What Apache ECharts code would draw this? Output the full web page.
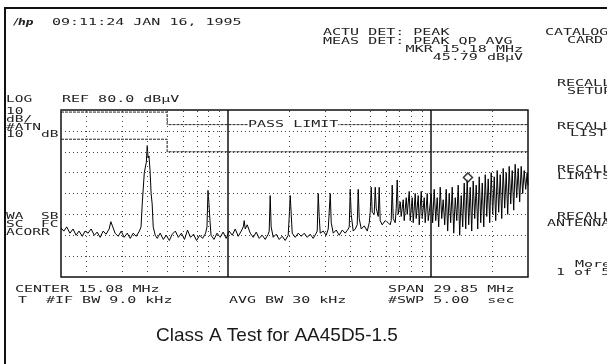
<!DOCTYPE html>
<html>
<head>
<meta charset="utf-8">
<script src="https://cdn.jsdelivr.net/npm/echarts@6/dist/echarts.min.js"></script>
<style>
    html, body { margin: 0; padding: 0; background: #fff; }
    #chart { width: 607px; height: 364px; }
</style>
</head>
<body>
<div id="chart"></div>
<script>
// Spectrum trace, [frequency MHz, level dBuV]
var trace = [
    [0.150, 23.5], [0.155, 22], [0.160, 24], [0.166, 21], [0.172, 23], [0.178, 20], [0.184, 22],
    [0.191, 19.5], [0.197, 22], [0.204, 21], [0.211, 23], [0.219, 20], [0.226, 21.5], [0.234, 19],
    [0.242, 22], [0.250, 20.5], [0.259, 23], [0.264, 26.5], [0.270, 24], [0.277, 21], [0.287, 19.5],
    [0.297, 22], [0.307, 19], [0.318, 21], [0.329, 18.5], [0.340, 21], [0.352, 19.5], [0.365, 22],
    [0.372, 24], [0.377, 35], [0.386, 50], [0.395, 55], [0.399, 63], [0.403, 57], [0.407, 58],
    [0.412, 51], [0.417, 40], [0.422, 35], [0.427, 24], [0.437, 20], [0.447, 18.5], [0.462, 21],
    [0.479, 18], [0.495, 20], [0.513, 17.5], [0.530, 20.5], [0.549, 22], [0.568, 19], [0.588, 21],
    [0.609, 18], [0.630, 22.5], [0.652, 19], [0.675, 20.5], [0.698, 17.5], [0.723, 20], [0.748, 18.5],
    [0.774, 21], [0.786, 24], [0.795, 41.5], [0.804, 35], [0.813, 27], [0.823, 20], [0.851, 18],
    [0.881, 21], [0.912, 19], [0.944, 21.5], [0.977, 18.5], [1.011, 22], [1.047, 20], [1.083, 23],
    [1.120, 19.5], [1.159, 22], [1.186, 24], [1.199, 27], [1.213, 23], [1.241, 25], [1.284, 21],
    [1.328, 19], [1.374, 21.5], [1.421, 18.5], [1.471, 20], [1.522, 18], [1.574, 20.5], [1.592, 22],
    [1.610, 39], [1.628, 24], [1.666, 19], [1.724, 20.5], [1.783, 18], [1.845, 19.5], [1.909, 17.5],
    [1.975, 20], [1.998, 29], [2.021, 39], [2.044, 30], [2.067, 21], [2.139, 19], [2.213, 21],
    [2.289, 19.5], [2.369, 21], [2.451, 19], [2.535, 20.5], [2.623, 18.5], [2.714, 21], [2.745, 22],
    [2.776, 40], [2.808, 29], [2.840, 21], [2.939, 22], [3.040, 20], [3.110, 23], [3.182, 40],
    [3.218, 26], [3.292, 21], [3.406, 22.5], [3.524, 20], [3.646, 22.5], [3.772, 21], [3.903, 23],
    [3.947, 24], [3.992, 42], [4.037, 30], [4.129, 22], [4.225, 23], [4.321, 25], [4.371, 42],
    [4.421, 28], [4.523, 23], [4.681, 24.5], [4.842, 22], [4.953, 26], [5.009, 31], [5.066, 43],
    [5.123, 31], [5.241, 30], [5.301, 43], [5.361, 33], [5.484, 29], [5.546, 43], [5.609, 27],
    [5.738, 25], [5.937, 27], [6.143, 26], [6.283, 25], [6.354, 27], [6.428, 44], [6.501, 28],
    [6.651, 26], [6.727, 33], [6.803, 46.5], [6.880, 30], [7.039, 36], [7.119, 29], [7.283, 37],
    [7.366, 27], [7.535, 38], [7.621, 30], [7.796, 41], [7.885, 27], [8.066, 38], [8.158, 26],
    [8.345, 40], [8.440, 28], [8.635, 39], [8.733, 25], [8.934, 41], [9.036, 28], [9.242, 38],
    [9.347, 26], [9.562, 40], [9.671, 27], [9.892, 35],
    [10.00, 40], [10.17, 26], [10.35, 42], [10.53, 27], [10.71, 38], [10.89, 24], [11.08, 43],
    [11.27, 28], [11.46, 37], [11.66, 25], [11.86, 42], [12.06, 22], [12.27, 40], [12.48, 26],
    [12.70, 43], [12.92, 21], [13.14, 38], [13.37, 27], [13.59, 44], [13.82, 20], [14.06, 39],
    [14.30, 24], [14.55, 45], [14.80, 23], [15.05, 47], [15.31, 25], [15.57, 43], [15.84, 22],
    [16.11, 46], [16.39, 28], [16.67, 44], [16.96, 23], [17.25, 48], [17.55, 26], [17.85, 45],
    [18.16, 24], [18.47, 49], [18.79, 29], [19.10, 47], [19.43, 26], [19.76, 50], [20.10, 30],
    [20.45, 48], [20.80, 27], [21.15, 51], [21.51, 31], [21.89, 49], [22.27, 28], [22.64, 52],
    [23.03, 33], [23.43, 50], [23.83, 30], [24.24, 53], [24.66, 35], [25.08, 51], [25.51, 32],
    [25.94, 54], [26.39, 38], [26.84, 52], [27.30, 36], [27.77, 53], [28.25, 40], [28.73, 51],
    [29.22, 42], [29.72, 50], [30.00, 44]
];

// Class A conducted limits (pass limit lines)
var qpLimitFreq = [0.15, 0.5, 0.5, 30];
var qpLimitLevel = [79, 79, 73, 73];
var avgLimitFreq = [0.15, 0.5, 0.5, 30];
var avgLimitLevel = [66, 66, 60, 60];

// graticule
var minorFreqs = [0.2, 0.3, 0.4, 0.5, 0.6, 0.7, 0.8, 0.9, 2, 3, 4, 5, 6, 7, 8, 9, 20];
var decadeFreqs = [1, 10];

// marker
var markerFreq = 15.18;
var markerLevel = 45.79;

function zip(xs, ys) {
    var out = [];
    for (var i = 0; i < xs.length; i++) {
        out.push([xs[i], ys[i]]);
    }
    return out;
}

// screen text in the analyzer's wide, squat character cell
function label(text, x, y, opts) {
    opts = opts || {};
    return {
        type: 'text',
        x: x,
        y: y,
        scaleX: opts.scaleX || 1.5,
        scaleY: opts.scaleY || 0.82,
        silent: true,
        z: 10,
        style: {
            text: text,
            font: opts.font || '10px "DejaVu Sans Mono"',
            fill: opts.color || '#222',
            align: opts.align || 'left',
            textAlign: opts.align || 'left',
            verticalAlign: 'middle',
            textVerticalAlign: 'middle',
            backgroundColor: opts.bg
        }
    };
}

var gridMarks = [];
minorFreqs.forEach(function (f) {
    gridMarks.push({ xAxis: f });
});
decadeFreqs.forEach(function (f) {
    gridMarks.push({ xAxis: f, lineStyle: { type: 'solid', color: '#111', width: 1.5 } });
});

var chart = echarts.init(document.getElementById('chart'));
var options = {
    animation: false,
    backgroundColor: '#fff',
    grid: {
        left: 61,
        top: 110,
        right: 79,
        bottom: 87,
        show: true,
        borderColor: '#111',
        borderWidth: 1.5,
        outerBoundsMode: 'none'
    },
    xAxis: {
        type: 'log',
        logBase: 10,
        min: 0.15,
        max: 30,
        axisLine: { show: false },
        axisTick: { show: false },
        axisLabel: { show: false },
        splitLine: { show: false }
    },
    yAxis: {
        type: 'value',
        min: 0,
        max: 80,
        interval: 10,
        axisLine: { show: false },
        axisTick: { show: false },
        axisLabel: { show: false },
        splitLine: {
            show: true,
            lineStyle: { type: [1, 3], color: '#444', width: 1 }
        }
    },
    series: [
        {
            name: 'graticule',
            type: 'line',
            data: [],
            silent: true,
            markLine: {
                silent: true,
                symbol: ['none', 'none'],
                label: { show: false },
                lineStyle: { type: [1, 4], color: '#444', width: 1 },
                data: gridMarks
            }
        },
        {
            name: 'QP limit',
            type: 'line',
            data: zip(qpLimitFreq, qpLimitLevel),
            showSymbol: false,
            silent: true,
            lineStyle: { color: '#222', width: 1, type: [3, 1] }
        },
        {
            name: 'AVG limit',
            type: 'line',
            data: zip(avgLimitFreq, avgLimitLevel),
            showSymbol: false,
            silent: true,
            lineStyle: { color: '#222', width: 1, type: [3, 1] }
        },
        {
            name: 'trace',
            type: 'line',
            data: trace,
            showSymbol: false,
            silent: true,
            lineStyle: { color: '#000', width: 1 }
        },
        {
            name: 'marker',
            type: 'scatter',
            data: [[markerFreq, markerLevel]],
            symbol: 'diamond',
            symbolSize: 9,
            symbolOffset: [0, -4],
            silent: true,
            itemStyle: { color: '#fff', borderColor: '#000', borderWidth: 1.5 },
            z: 5
        }
    ],
    graphic: [
        {
            type: 'rect',
            silent: true,
            shape: { x: 5, y: 8, width: 700, height: 420 },
            style: { fill: 'none', stroke: '#111', lineWidth: 2 }
        },
        label('/hp', 14, 23, { font: 'italic bold 9px "DejaVu Sans"', scaleX: 1.2, scaleY: 1 }),
        label('09:11:24 JAN 16, 1995', 52, 23),
        label('ACTU DET: PEAK', 323, 33),
        label('MEAS DET: PEAK QP AVG', 323, 41.5),
        label('MKR 15.18 MHz', 523, 50, { align: 'right' }),
        label('45.79 dB\u00b5V', 523, 58, { align: 'right' }),

        label('LOG', 6, 100, { scaleX: 1.45 }),
        label('REF 80.0 dB\u00b5V', 62, 100),
        label('10', 6, 112, { scaleX: 1.45 }),
        label('dB/', 6, 120, { scaleX: 1.45 }),
        label('#ATN', 6, 127.5, { scaleX: 1.45 }),
        label('10  dB', 6, 135, { scaleX: 1.45 }),
        label('WA  SB', 6, 217, { scaleX: 1.45 }),
        label('SC  FC', 6, 225, { scaleX: 1.45 }),
        label('ACORR', 6, 233, { scaleX: 1.45 }),
        label('PASS LIMIT', 248, 125, { bg: '#fff' }),

        label('CATALOG', 545, 33),
        label('CARD', 567, 41),
        label('RECALL', 557, 84),
        label('SETUP', 567, 92),
        label('RECALL', 557, 127),
        label('LIST', 570, 134),
        label('RECALL', 557, 170),
        label('LIMITS', 557, 177),
        label('RECALL', 557, 217),
        label('ANTENNA', 547, 224),
        label('More', 575, 265),
        label('1 of 5', 556, 273),

        label('CENTER 15.08 MHz', 15, 290),
        label('T', 18, 301),
        label('#IF BW 9.0 kHz', 46, 301),
        label('AVG BW 30 kHz', 229, 301),
        label('SPAN 29.85 MHz', 388, 290),
        label('#SWP 5.00  sec', 388, 301),

        label('Class A Test for AA45D5-1.5', 277, 336, {
            font: '19px "Liberation Sans", Arial, sans-serif',
            scaleX: 1,
            scaleY: 1,
            align: 'center',
            color: '#1a1a1a'
        })
    ]
};
chart.setOption(options);
</script>
</body>
</html>
